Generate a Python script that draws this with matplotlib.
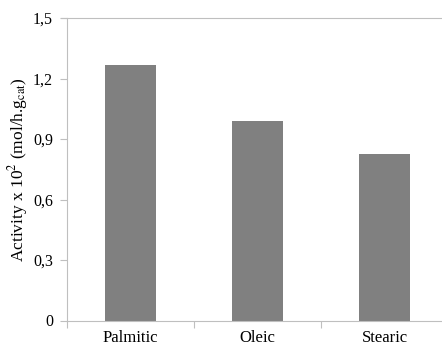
import matplotlib.pyplot as plt

# fatty acid activity values
acids = ['Palmitic', 'Oleic', 'Stearic']
activity = [1.267, 0.988, 0.824]
yticks = [0, 0.3, 0.6, 0.9, 1.2, 1.5]
ytick_labels = ['0', '0,3', '0,6', '0,9', '1,2', '1,5']

plt.rcParams['font.family'] = ['Liberation Serif', 'DejaVu Serif']
plt.rcParams['mathtext.fontset'] = 'stix'

fig = plt.figure(figsize=(4.42, 3.47), dpi=100)
# axes run past the right edge, like the original export
ax = fig.add_axes([67 / 442, 1 - 320.5 / 347, 381 / 442, 302.5 / 347])

x = list(range(len(acids)))
ax.bar(x, activity, width=0.395, color='#808080')

ax.set_xlim(-0.5, 2.5)
ax.set_ylim(0, 1.5)
ax.set_yticks(yticks)
ax.set_yticklabels(ytick_labels, fontsize=11.5)

# boundaries get tick marks, names sit in between without ticks
ax.set_xticks([-0.5, 0.5, 1.5, 2.5])
ax.set_xticklabels([])
ax.set_xticks(x, minor=True)
ax.set_xticklabels(acids, minor=True, fontsize=12)
ax.tick_params(axis='x', which='minor', length=0, pad=7)
ax.tick_params(axis='x', which='major', length=5, direction='out', color='#bfbfbf')
ax.tick_params(axis='y', length=5, direction='out', color='#bfbfbf', pad=5)

for side in ['left', 'bottom', 'top']:
    ax.spines[side].set_color('#bfbfbf')
ax.spines['right'].set_visible(False)
ax.spines['top'].set_bounds(-0.55, 2.5)
ax.spines['top'].set_clip_on(False)

ax.set_ylabel(r'Activity x 10$^{2}$ (mol/h.g$_{\rm cat}$)', fontsize=12.5, labelpad=2)

fig.savefig('out.png', dpi=100)
